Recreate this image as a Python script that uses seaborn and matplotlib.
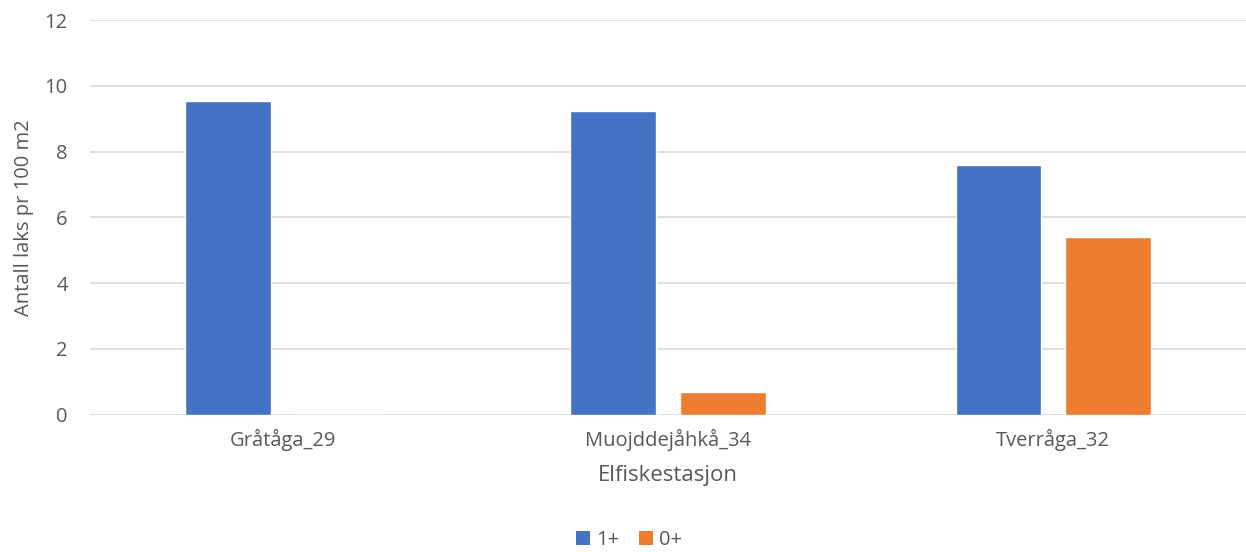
import matplotlib
matplotlib.use("Agg")
import matplotlib.pyplot as plt
import seaborn as sns
import pandas as pd
from matplotlib.patches import Patch

stations = ["Gråtåga_29", "Muojddejåhkå_34", "Tverråga_32"]
series_names = ["1+", "0+"]
values_1plus = [9.53, 9.24, 7.59]
values_0plus = [0.0, 0.68, 5.39]
colors = ["#4472C4", "#ED7D31"]

rows = []
for s, a, b in zip(stations, values_1plus, values_0plus):
    rows.append({"station": s, "group": series_names[0], "value": a})
    rows.append({"station": s, "group": series_names[1], "value": b})
df = pd.DataFrame(rows)

sns.set_theme(style="white")
plt.rcParams["font.family"] = ["Open Sans", "DejaVu Sans"]

fig = plt.figure(figsize=(12.46, 5.52), dpi=100)
ax = fig.add_axes([90/1246, 1-414.7/552, 1-90/1246, (414.7-20)/552])

sns.barplot(data=df, x="station", y="value", hue="group", order=stations,
            hue_order=series_names, palette=colors, width=0.57, gap=0.22,
            saturation=1, ax=ax, legend=False, zorder=3)

ax.set_ylim(0, 12)
ax.set_yticks(range(0, 13, 2))
ax.set_xlim(-0.5, 2.5)
ax.grid(axis="y", color="#d9d9d9", linewidth=1.2, zorder=0)
ax.set_axisbelow(True)
for sp in ax.spines.values():
    sp.set_visible(False)
ax.tick_params(axis="both", length=0, labelsize=14.5, labelcolor="#595959")
ax.tick_params(axis="y", pad=16)
ax.tick_params(axis="x", pad=10)
ax.set_xlabel("Elfiskestasjon", fontsize=16, color="#595959", labelpad=10)
ax.set_ylabel("Antall laks pr 100 m2", fontsize=14.5, color="#595959", labelpad=8)

handles = [Patch(facecolor=c, edgecolor="none", label=n) for c, n in zip(colors, series_names)]
fig.legend(handles=handles, loc="center", bbox_to_anchor=(629/1246, 1-540/552), ncol=2,
           frameon=False, fontsize=14.5, labelcolor="#595959", handlelength=0.7,
           handleheight=0.7, handletextpad=0.3, columnspacing=1.0)

fig.savefig("out.png", dpi=100)
